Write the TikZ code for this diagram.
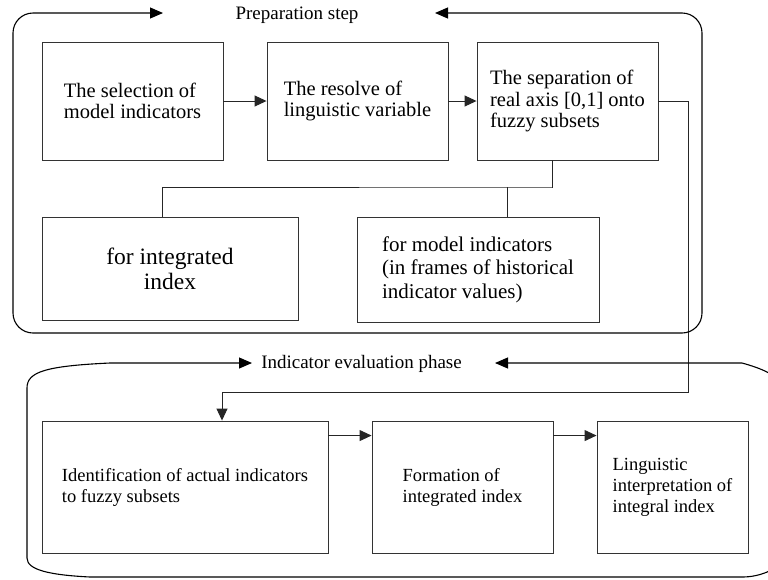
\documentclass[tikz,border=0pt]{standalone}
\usepackage{fontspec}
\setmainfont{Liberation Serif}
\usetikzlibrary{arrows.meta,positioning}

\begin{document}
\begin{tikzpicture}[x=1pt,y=-1pt,
    box/.style={rectangle,draw=black!80,line width=0.9pt,inner sep=0pt,align=left},
    flow/.style={draw=black!85,line width=0.9pt,-{Triangle[length=12pt,width=11pt]}},
    link/.style={draw=black!85,line width=0.9pt},
    frame/.style={draw=black,line width=1.1pt,rounded corners=20pt,
      {Triangle[length=13pt,width=11pt]}-{Triangle[length=13pt,width=11pt]}}]
  \useasboundingbox (0,0) rectangle (768,579);
  \clip (0,0) rectangle (768,579);

  \begin{scope}[every node/.style={box,minimum width=181pt,minimum height=118pt,font=\fontsize{20.5}{21.5}\selectfont}]
    \node (sel) at (132.5,101) {The selection of\\model indicators};
    \node (res) at (357.5,101) {The resolve of\\linguistic variable};
    \node (sep) at (567.5,101) {The separation of\\real axis [0,1] onto\\fuzzy subsets};
  \end{scope}
  \begin{scope}[every node/.style={box}]
    \node (forint) at (170,268.5) [minimum width=256pt,minimum height=103pt,align=center,
      font=\fontsize{23.5}{25}\selectfont] {for integrated\\index};
    \node (formod) at (478,269.5) [minimum width=242pt,minimum height=105pt,
      font=\fontsize{21}{23.5}\selectfont] {for model indicators\\(in frames of historical\\indicator values)};
  \end{scope}
  \begin{scope}[every node/.style={box,minimum height=132pt,font=\fontsize{18.5}{21}\selectfont}]
    \node (ident) at (185,487) [minimum width=286pt] {Identification of actual indicators\\to fuzzy subsets};
    \node (form) at (462.5,487) [minimum width=181pt] {Formation of\\integrated index};
    \node (ling) at (672.5,487) [minimum width=151pt] {Linguistic\\interpretation of\\integral index};
  \end{scope}

  \node (prep) at (297,15) [font=\fontsize{19}{21}\selectfont] {Preparation step};
  \node (eval) at (361.5,364) [font=\fontsize{19}{21}\selectfont] {Indicator evaluation phase};

  \coordinate (prepL) at (163,13);
  \coordinate (prepR) at (435,13);
  \coordinate (evalL) at (252,363);
  \coordinate (evalR) at (495,363);
  \coordinate (fork) at (552,187);
  \coordinate (loop) at (688,392);

  \begin{scope}[every edge/.style={flow}]
    \path (sel) edge (res);
    \path (res) edge (sep);
    \path ([yshift=-15pt]ident.north east) edge ([yshift=-15pt]form.north west);
    \path ([yshift=-15pt]form.north east) edge ([yshift=-15pt]ling.north west);
  \end{scope}

  \draw[flow] (sep.east) -| (loop) -| ([xshift=37pt]ident.north);
  \draw[link] ([xshift=-15pt]sep.south) |- (fork) -| ([xshift=-8pt]forint.north);
  \draw[link] ([xshift=29pt]formod.north) -- ([xshift=29pt]formod.north |- fork);

  \draw[frame] (prepL) -- (13,13) -- (13,333) -- (702,333) -- (702,13) -- (prepR);
  \draw[frame,rounded corners=0pt] (evalL) -- (110,363) .. controls (45,366) and (27,372) .. (27,388)
    -- (27,558) .. controls (27,570) and (50,575) .. (90,577) -- (742,577)
    .. controls (760,577) and (775,570) .. (785,560) -- (785,390)
    .. controls (780,375) and (760,368) .. (742,363) -- (evalR);
\end{tikzpicture}
\end{document}
